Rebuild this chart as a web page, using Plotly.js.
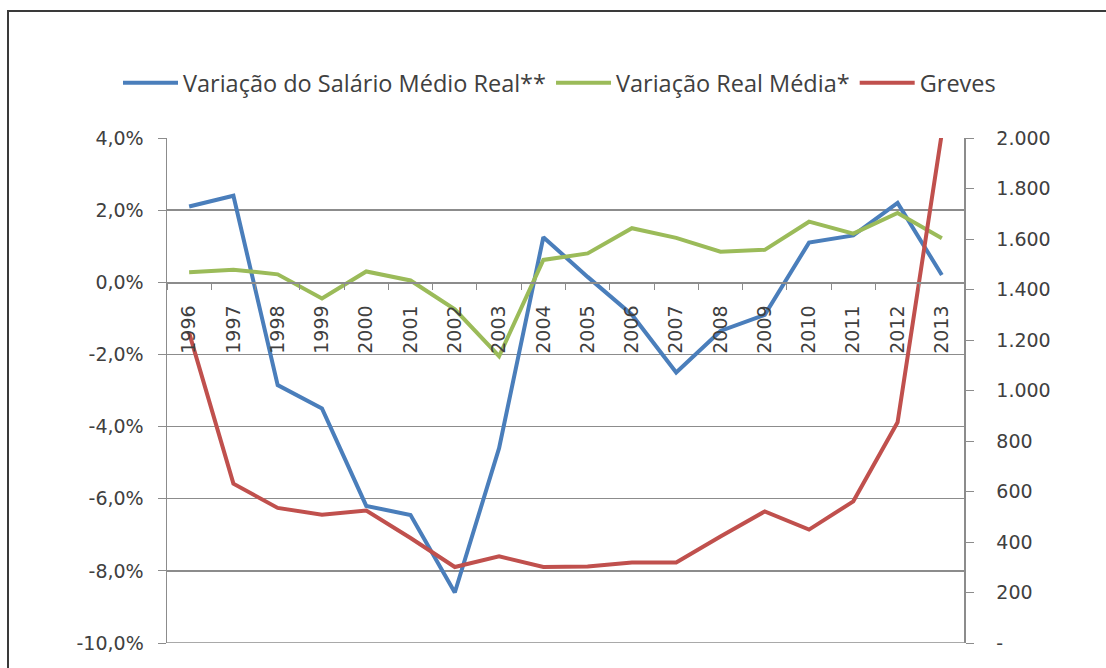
<!DOCTYPE html>
<html>
<head>
<meta charset="utf-8">
<script src="https://cdn.plot.ly/plotly-3.0.1.min.js"></script>
<style>html,body{margin:0;padding:0;background:#fff;}#chart{width:1106px;height:668px;}</style>
</head>
<body>
<div id="chart"></div>
<script>
var years = ["1996","1997","1998","1999","2000","2001","2002","2003","2004","2005","2006","2007","2008","2009","2010","2011","2012","2013"];
var salarioMedioReal = [2.1, 2.4, -2.85, -3.5, -6.2, -6.45, -8.6, -4.6, 1.25, 0.15, -0.9, -2.5, -1.35, -0.9, 1.1, 1.3, 2.2, 0.2];
var variacaoRealMedia = [0.28, 0.35, 0.22, -0.45, 0.3, 0.05, -0.75, -2.05, 0.62, 0.8, 1.5, 1.23, 0.85, 0.9, 1.68, 1.35, 1.92, 1.22];
var greves = [1228, 631, 535, 508, 525, 416, 301, 343, 301, 303, 319, 319, 422, 521, 449, 561, 874, 2020];

var leftTickVals = [-10, -8, -6, -4, -2, 0, 2, 4];
var leftTickText = ["-10,0%", "-8,0%", "-6,0%", "-4,0%", "-2,0%", "0,0%", "2,0%", "4,0%"];
var rightTickVals = [0, 200, 400, 600, 800, 1000, 1200, 1400, 1600, 1800, 2000];
var rightTickText = ["-", "200", "400", "600", "800", "1.000", "1.200", "1.400", "1.600", "1.800", "2.000"];

var names = ["Variação do Salário Médio Real**", "Variação Real Média*", "Greves"];
var colors = ["#4A7EBB", "#9BBB59", "#C0504D"];

var traces = [
  {x: years, y: salarioMedioReal, name: names[0], type: "scatter", mode: "lines",
   line: {color: colors[0], width: 4}, xaxis: "x", yaxis: "y"},
  {x: years, y: variacaoRealMedia, name: names[1], type: "scatter", mode: "lines",
   line: {color: colors[1], width: 4}, xaxis: "x", yaxis: "y"},
  {x: years, y: greves, name: names[2], type: "scatter", mode: "lines",
   line: {color: colors[2], width: 4}, xaxis: "x", yaxis: "y2"}
];

var tickFont = {family: "DejaVu Sans, Verdana, sans-serif", size: 19, color: "#404040"};
var gridColor = "#8C8C8C";

var layout = {
  width: 1106, height: 668,
  margin: {l: 167, r: 142, t: 138, b: 25, pad: 0},
  paper_bgcolor: "#ffffff", plot_bgcolor: "#ffffff",
  showlegend: true,
  legend: {orientation: "h", x: (118 - 167) / 797, xanchor: "left", y: 1.109, yanchor: "middle",
           font: {family: "Open Sans, Lato, sans-serif", size: 23.5, color: "#404040"},
           itemwidth: 55, tracegroupgap: 0, bgcolor: "rgba(0,0,0,0)"},
  xaxis: {type: "category", categoryorder: "array", categoryarray: years,
          range: [-0.5, 17.5], anchor: "free", position: 10/14,
          tickangle: -90, ticks: "outside", tickson: "boundaries", ticklen: 6,
          tickcolor: gridColor, showline: true, linecolor: gridColor, linewidth: 1.5,
          showgrid: false, zeroline: false, tickfont: tickFont, ticklabelstandoff: 14,
          fixedrange: true},
  yaxis: {range: [-10, 4], tickvals: leftTickVals, ticktext: leftTickText,
          showgrid: true, gridcolor: gridColor, gridwidth: 1.5, zeroline: false,
          showline: true, linecolor: gridColor, linewidth: 1.5,
          ticks: "outside", ticklen: 8, tickcolor: gridColor,
          tickfont: tickFont, ticklabelstandoff: 10, fixedrange: true},
  yaxis2: {range: [0, 2000], tickvals: rightTickVals, ticktext: rightTickText,
           overlaying: "y", side: "right", anchor: "x",
           showgrid: false, zeroline: false, showline: true, linecolor: gridColor, linewidth: 1.5,
           ticks: "outside", ticklen: 8, tickcolor: gridColor,
           tickfont: tickFont, ticklabelstandoff: 19, fixedrange: true},
  shapes: [
    {type: "rect", xref: "paper", yref: "paper",
     x0: (8 - 167) / 797, x1: (1115 - 167) / 797,
     y0: (643 - 690) / 505, y1: (643 - 11) / 505,
     line: {color: "#3A3A3A", width: 2}, fillcolor: "rgba(0,0,0,0)", layer: "below"},
    {type: "line", xref: "paper", yref: "y", x0: 0, x1: 1, y0: -10, y1: -10,
     line: {color: gridColor, width: 1.5}, layer: "below"}
  ]
};

Plotly.newPlot("chart", traces, layout, {displayModeBar: false, staticPlot: true});
</script>
</body>
</html>
